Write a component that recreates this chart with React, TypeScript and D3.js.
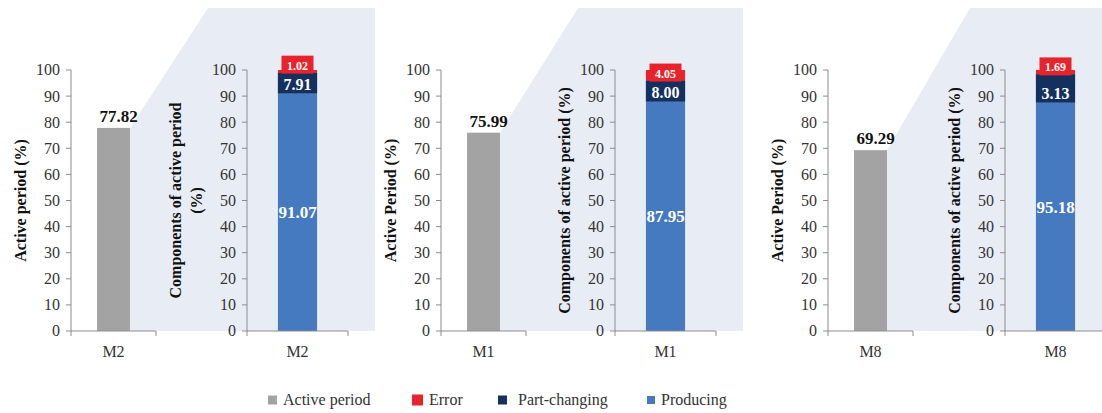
import { useMemo } from "react";
import * as d3 from "d3";

// data
const machines = ["M2", "M1", "M8"];
const activePeriod = [77.82, 75.99, 69.29];
const producing = [91.07, 87.95, 95.18];
const partChanging = [7.91, 8.0, 3.13];
const errorShare = [1.02, 4.05, 1.69];
const leftTitles = ["Active period (%)", "Active Period (%)", "Active Period (%)"];
const rightTitles = [
  ["Components of active period", "(%)"],
  ["Components of active period (%)"],
  ["Components of active period (%)"],
];
const legendNames = ["Active period", "Error", "Part-changing", "Producing"];

const W = 1102;
const H = 413;
const FONT = "Liberation Serif, Times New Roman, serif";
const C = {
  gray: "#a3a3a3",
  blue: "#4579c0",
  navy: "#14305e",
  red: "#e8232b",
  shade: "#e8edf5",
  axis: "#8c8c8c",
  text: "#333",
};
const legendColors = [C.gray, C.red, C.navy, C.blue];
const legendX = [268, 412, 498, 647];
const legendSq = [9, 11, 9, 8];

// layout of the three panels
const leftAxisX = [71, 441, 828];
const rightAxisX = [247, 615, 1005];
const leftAxisLen = 85;
const rightAxisLen = 101;

const y = d3.scaleLinear().domain([0, 100]).range([331, 70]);
const ticks = y.ticks(10);

function YAxis({ x }: { x: number }) {
  return (
    <g>
      <line x1={x} x2={x} y1={y(0)} y2={y(100)} stroke={C.axis} />
      {ticks.map((t) => (
        <g key={t}>
          <line x1={x - 5} x2={x} y1={y(t)} y2={y(t)} stroke={C.axis} />
          <text
            x={x - 11}
            y={y(t)}
            dy="0.34em"
            textAnchor="end"
            fontSize={16}
            fill={C.text}
          >
            {t}
          </text>
        </g>
      ))}
    </g>
  );
}

function XAxis({ x0, x1, label, cx }: { x0: number; x1: number; label: string; cx: number }) {
  const y0 = y(0);
  return (
    <g>
      <line x1={x0} x2={x1} y1={y0} y2={y0} stroke={C.axis} />
      <line x1={x0} x2={x0} y1={y0} y2={y0 + 5} stroke={C.axis} />
      <line x1={x1} x2={x1} y1={y0} y2={y0 + 5} stroke={C.axis} />
      <text x={cx} y={357} textAnchor="middle" fontSize={16} fill={C.text}>
        {label}
      </text>
    </g>
  );
}

function Panel({ i }: { i: number }) {
  const m = machines[i];
  const lx = leftAxisX[i];
  const rx = rightAxisX[i];
  const xl = d3.scaleBand().domain([m]).range([lx, lx + leftAxisLen]).paddingOuter(0.79);
  const xr = d3.scaleBand().domain([m]).range([rx, rx + rightAxisLen]).paddingOuter(0.79);

  const barL = xl(m)!;
  const bwL = xl.bandwidth();
  const barR = xr(m)!;
  const bwR = xr.bandwidth();
  const cR = barR + bwR / 2;

  const stack = d3
    .stack<{ p: number; c: number; e: number }>()
    .keys(["p", "c", "e"])([{ p: producing[i], c: partChanging[i], e: errorShare[i] }]);
  const segColors = [C.blue, C.navy, C.red];

  // zoom-out shade behind the right chart
  const topY = y(activePeriod[i]);
  const shade = d3.line()([
    [barL + bwL, topY],
    [lx + 137 + (i === 2 ? 5 : 0), 8],
    [rx + 128, 8],
    [rx + 128, y(0)],
    [barL + bwL, y(0)],
  ]);

  const [p, c, e] = stack.map((s) => s[0]);
  const navyTop = y(c[1]);
  // a thin segment gets a taller label box, as in the figure
  const navyBottom = y(c[0]) - navyTop < 14 ? navyTop + 28 : y(c[0]);
  const redBottom = y(e[0]);

  const titleCx = rx - 51;
  const titleCy = (y(0) + y(100)) / 2;
  const rt = rightTitles[i];

  return (
    <g>
      <path d={shade!} fill={C.shade} />
      {/* left chart */}
      <rect x={barL} y={topY} width={bwL} height={y(0) - topY} fill={C.gray} />
      <YAxis x={lx} />
      <XAxis x0={lx} x1={lx + leftAxisLen} label={m} cx={barL + bwL / 2} />
      <text
        x={barL + bwL / 2 + 5}
        y={topY - 6}
        textAnchor="middle"
        fontSize={17}
        fontWeight="bold"
        fill="#111"
      >
        {activePeriod[i].toFixed(2)}
      </text>
      <text
        transform={`translate(${lx - 51},${titleCy}) rotate(-90)`}
        textAnchor="middle"
        dy="0.35em"
        fontSize={16}
        fontWeight="bold"
        fill="#111"
      >
        {leftTitles[i]}
      </text>

      {/* right chart */}
      {stack.map((s, k) => (
        <rect
          key={k}
          x={barR}
          y={y(s[0][1])}
          width={bwR}
          height={y(s[0][0]) - y(s[0][1])}
          fill={segColors[k]}
        />
      ))}
      <rect x={barR} y={navyTop} width={bwR} height={navyBottom - navyTop} fill={C.navy} />
      <rect x={cR - 16} y={redBottom - 17} width={32} height={18} fill={C.red} />
      <YAxis x={rx} />
      <XAxis x0={rx} x1={rx + rightAxisLen} label={m} cx={cR} />
      <text
        x={cR}
        y={(y(p[0]) + y(p[1])) / 2}
        dy="0.35em"
        textAnchor="middle"
        fontSize={17}
        fontWeight="bold"
        fill="#fff"
      >
        {producing[i].toFixed(2)}
      </text>
      <text
        x={cR}
        y={navyBottom - 3}
        textAnchor="middle"
        fontSize={16}
        fontWeight="bold"
        fill="#fff"
      >
        {partChanging[i].toFixed(2)}
      </text>
      <text
        x={cR}
        y={redBottom - 3}
        textAnchor="middle"
        fontSize={12}
        fontWeight="bold"
        fill="#fff"
      >
        {errorShare[i].toFixed(2)}
      </text>
      {rt.map((line, k) => (
        <text
          key={k}
          transform={`translate(${titleCx - (rt.length - 1 - k) * 21},${titleCy}) rotate(-90)`}
          textAnchor="middle"
          dy="0.35em"
          fontSize={16}
          fontWeight="bold"
          fill="#111"
        >
          {line}
        </text>
      ))}
    </g>
  );
}

export default function App() {
  const panels = useMemo(() => machines.map((_, i) => i), []);
  return (
    <div style={{ position: "fixed", left: 0, top: 0 }}>
      <svg
        width={W}
        height={H}
        style={{ display: "block", background: "#fff", fontFamily: FONT }}
      >
        {panels.map((i) => (
          <Panel key={i} i={i} />
        ))}
        {legendNames.map((name, k) => (
          <g key={name}>
            <rect
              x={legendX[k]}
              y={400 - legendSq[k] / 2}
              width={legendSq[k]}
              height={legendSq[k]}
              fill={legendColors[k]}
            />
            <text
              x={legendX[k] + legendSq[k] + (k === 2 ? 11 : 6)}
              y={400}
              dy="0.32em"
              fontSize={16}
              fill={C.text}
            >
              {name}
            </text>
          </g>
        ))}
      </svg>
    </div>
  );
}
